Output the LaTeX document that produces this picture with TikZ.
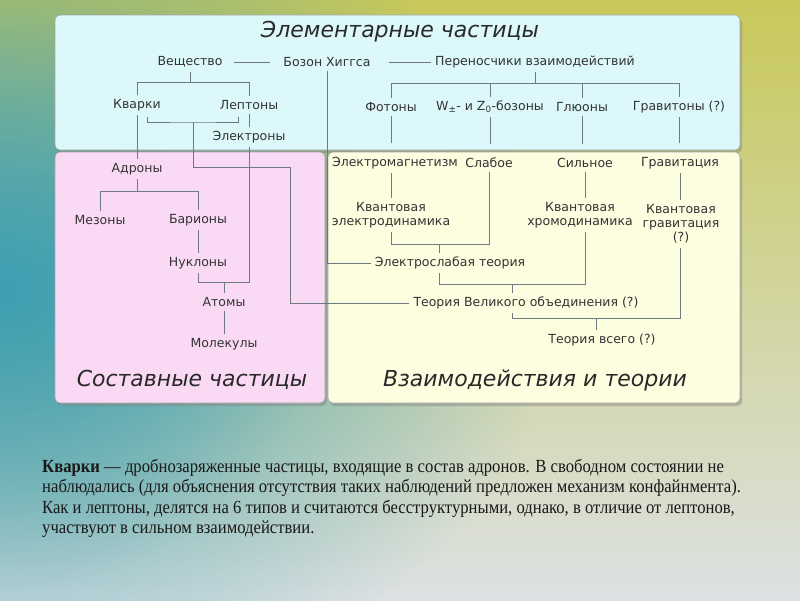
\documentclass[tikz,border=0pt]{standalone}
\usepackage{fontspec}
\setmainfont{DejaVu Sans}
\newfontfamily\bodyfont[FakeStretch=0.9]{Liberation Serif}
\usetikzlibrary{shadows,fadings}
\definecolor{bgtop}{HTML}{C8C85A}
\definecolor{bgmid}{HTML}{C6D8D4}
\definecolor{bgbot}{HTML}{DCE1E3}
\definecolor{bgteal}{HTML}{3F9FB2}
\definecolor{topfill}{HTML}{DCF8FA}
\definecolor{pinkfill}{HTML}{FAD9F5}
\definecolor{yellowfill}{HTML}{FDFDE0}
\definecolor{linegray}{HTML}{6F7A80}
\definecolor{txt}{HTML}{333333}
\tikzfading[name=softblob,inner color=transparent!0,outer color=transparent!100]

\begin{document}
\begin{tikzpicture}[x=1pt,y=-1pt,
    lbl/.style={text=txt,font=\fontsize{12.5}{14}\selectfont,inner sep=4pt,align=center},
    ttl/.style={text=txt!80!black,font=\itshape\fontsize{22}{24}\selectfont,inner sep=2pt},
    conn/.style={draw=linegray,line width=0.9pt},
    panel/.style={rounded corners=5pt,draw=gray!70,line width=0.6pt,drop shadow={shadow xshift=2pt,shadow yshift=-3pt,opacity=0.45}}]
    \useasboundingbox (0,0) rectangle (800,600);
    \shade[top color=bgtop,middle color=bgmid,bottom color=bgbot] (0,0) rectangle (800,600);
    \fill[bgteal,path fading=softblob] (0,290) ellipse [x radius=560pt,y radius=420pt];
    \fill[bgteal,path fading=softblob,opacity=0.6] (0,290) ellipse [x radius=320pt,y radius=300pt];
    \path[panel,fill=topfill] (55,15) rectangle (740,150);
    \path[panel,fill=pinkfill] (55,152) rectangle (325,403);
    \path[panel,fill=yellowfill] (328,152) rectangle (740,403);

    \node[ttl] (elem) at (400,32) {Элементарные частицы};
    \node[lbl] (vesh) at (190,62) {Вещество};
    \node[lbl] (higgs) at (327,62) {Бозон Хиггса};
    \node[lbl] (nosit) at (535,62) {Переносчики взаимодействий};
    \node[lbl] (kvark) at (137,105) {Кварки};
    \node[lbl] (lepton) at (249,105) {Лептоны};
    \node[lbl] (elektr) at (249,137) {Электроны};
    \node[lbl] (foton) at (391,107) {Фотоны};
    \node[lbl] (wz) at (490,107) {W\textsubscript{±}- и Z\textsubscript{0}-бозоны};
    \node[lbl] (gluon) at (582,107) {Глюоны};
    \node[lbl] (gravit) at (679,107) {Гравитоны (?)};

    \node[lbl] (adron) at (137,169) {Адроны};
    \node[lbl] (mezon) at (100,220) {Мезоны};
    \node[lbl] (barion) at (198,220) {Барионы};
    \node[lbl] (nuklon) at (198,263) {Нуклоны};
    \node[lbl] (atom) at (224,302) {Атомы};
    \node[lbl] (molek) at (224,344) {Молекулы};
    \node[ttl] (sost) at (192,380) {Составные частицы};

    \node[lbl] (em) at (395,163) {Электромагнетизм};
    \node[lbl] (slab) at (489,163) {Слабое};
    \node[lbl] (silno) at (585,163) {Сильное};
    \node[lbl] (grav) at (680,163) {Гравитация};
    \node[lbl] (ked) at (391,215) {Квантовая\\электродинамика};
    \node[lbl] (khd) at (580,215) {Квантовая\\хромодинамика};
    \node[lbl] (kgr) at (681,224) {Квантовая\\гравитация\\(?)};
    \node[lbl] (ew) at (450,263) {Электрослабая теория};
    \node[lbl] (tvo) at (526,303) {Теория Великого объединения (?)};
    \node[lbl] (tv) at (602,340) {Теория всего (?)};
    \node[ttl] (vzaim) at (535,380) {Взаимодействия и теории};

    \coordinate (vbar) at (0,82);
    \coordinate (pbar) at (0,83);
    \coordinate (qlmid) at (193,122);
    \coordinate (hbar) at (0,191);
    \coordinate (abar) at (0,282);
    \coordinate (ewbar) at (0,244);
    \coordinate (gutbar) at (0,284);
    \coordinate (tvbar) at (0,318);

    \draw[conn,shorten <=7pt,shorten >=9pt] (vesh) -- (higgs);
    \draw[conn,shorten <=14pt] (higgs) -- (nosit);
    \draw[conn] (vesh.south) -- (vesh |- vbar);
    \draw[conn] (kvark.north) -- (kvark |- vbar) -- (lepton |- vbar) -- (lepton.north);
    \draw[conn] (nosit.south) -- (nosit |- pbar);
    \draw[conn] (foton |- pbar) -- (gravit |- pbar);
    \foreach \n in {foton,wz,gluon,gravit}
        \draw[conn] (\n.north) -- (\n |- pbar);
    \draw[conn,shorten >=10pt] (foton.south) -- (foton.south |- em.north);
    \draw[conn,shorten >=10pt] (wz.south) -- (wz.south |- slab.north);
    \draw[conn,shorten >=10pt] (gluon.south) -- (gluon.south |- silno.north);
    \draw[conn,shorten >=10pt] (gravit.south) -- (gravit.south |- grav.north);

    \draw[conn] (147,117) |- (qlmid) -| (238,117);
    \draw[conn] (qlmid) |- (290,167) |- (tvo.west);
    \draw[conn] (higgs.south) |- (ew.west);
    \draw[conn] (lepton) -- (elektr);
    \draw[conn] (kvark.south) -- (kvark.south |- adron.north);
    \draw[conn] (adron.south) -- (adron |- hbar);
    \draw[conn] (mezon.north) -- (mezon |- hbar) -- (barion |- hbar) -- (barion.north);
    \draw[conn] (barion) -- (nuklon);
    \draw[conn] (nuklon.south) -- (nuklon |- abar) -- (elektr |- abar) -- (elektr.south);
    \draw[conn] (atom.north) -- (atom |- abar);
    \draw[conn] (atom) -- (molek);

    \draw[conn] (ked.north |- em.south) -- (ked.north);
    \draw[conn] (ked.south) -- (ked |- ewbar) -- (slab |- ewbar) -- (slab.south);
    \draw[conn] ([xshift=-11pt]ew.north) -- ([xshift=-11pt]ew.north |- ewbar);
    \draw[conn] (silno.south) -- (silno.south |- khd.north);
    \draw[conn] (grav.south) -- (grav.south |- kgr.north);
    \draw[conn] ([xshift=-11pt]ew.south) -- ([xshift=-11pt]ew.south |- gutbar) -- (silno |- gutbar) -- (silno |- khd.south);
    \draw[conn] ([xshift=-14pt]tvo.north) -- ([xshift=-14pt]tvo.north |- gutbar);
    \draw[conn] ([xshift=-14pt]tvo.south) -- ([xshift=-14pt]tvo.south |- tvbar) -- (grav |- tvbar) -- (grav |- kgr.south);
    \draw[conn] ([xshift=-6pt]tv.north) -- ([xshift=-6pt]tv.north |- tvbar);

    \node[anchor=north west,text=black!90,align=left,inner sep=0pt,
        font=\bodyfont\fontsize{18.5}{20.5}\selectfont] (opis) at (42,459)
        {\textbf{Кварки} — дробнозаряженные частицы, входящие в состав адронов. В свободном состоянии не\\
        наблюдались (для объяснения отсутствия таких наблюдений предложен механизм конфайнмента).\\
        Как и лептоны, делятся на 6 типов и считаются бесструктурными, однако, в отличие от лептонов,\\
        участвуют в сильном взаимодействии.};
\end{tikzpicture}
\end{document}
